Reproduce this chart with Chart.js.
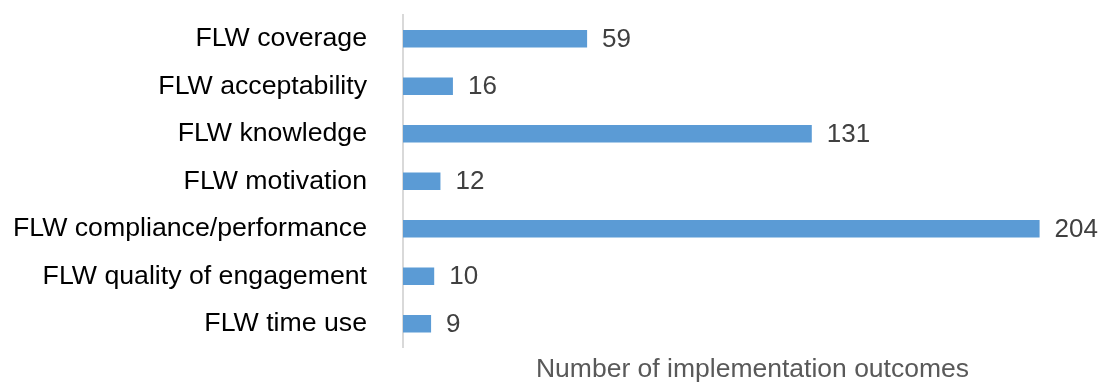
<!DOCTYPE html>
<html>
<head>
<meta charset="utf-8">
<script src="https://cdn.jsdelivr.net/npm/chart.js@4/dist/chart.umd.min.js"></script>
<style>
  html, body { margin: 0; padding: 0; background: #fff; }
  #wrap { width: 1102px; height: 383px; position: relative; }
</style>
</head>
<body>
<div id="wrap"><canvas id="outcomesChart"></canvas></div>
<script>
const categories = [
    'FLW coverage',
    'FLW acceptability',
    'FLW knowledge',
    'FLW motivation',
    'FLW compliance/performance',
    'FLW quality of engagement',
    'FLW time use'
];
const outcomeCounts = [59, 16, 131, 12, 204, 10, 9];
const axisTitle = 'Number of implementation outcomes';

const FONT = '"Liberation Sans", Arial, sans-serif';

// write the count just past the end of each bar
const valueLabels = {
    id: 'valueLabels',
    afterDatasetsDraw(chart) {
        const ctx = chart.ctx;
        const meta = chart.getDatasetMeta(0);
        ctx.save();
        ctx.font = '26px ' + FONT;
        ctx.fillStyle = '#404040';
        ctx.textAlign = 'left';
        ctx.textBaseline = 'middle';
        meta.data.forEach((bar, i) => {
            ctx.fillText(String(outcomeCounts[i]), bar.x + 15, bar.y + 1);
        });
        ctx.restore();
    }
};

const ctx = document.getElementById('outcomesChart').getContext('2d');
new Chart(ctx, {
    type: 'bar',
    data: {
        labels: categories,
        datasets: [{
            data: outcomeCounts,
            backgroundColor: '#5b9bd5',
            borderWidth: 0,
            categoryPercentage: 1,
            barPercentage: 0.37
        }]
    },
    options: {
        indexAxis: 'y',
        responsive: true,
        maintainAspectRatio: false,
        animation: false,
        layout: { padding: { top: 15, right: 0, bottom: 0, left: 0 } },
        plugins: {
            legend: { display: false },
            tooltip: { enabled: false }
        },
        scales: {
            x: {
                min: 0,
                max: 224,
                grid: { display: false },
                border: { display: false },
                ticks: { display: false },
                title: {
                    display: true,
                    text: axisTitle,
                    color: '#595959',
                    font: { family: FONT, size: 26.5, lineHeight: 1 },
                    padding: { top: 4, bottom: 0 }
                },
                afterFit(scale) {
                    scale.height = 35.5;
                    scale.paddingLeft = 0;
                    scale.paddingRight = 0;
                }
            },
            y: {
                grid: { display: false },
                border: { display: true, color: '#d9d9d9', width: 2 },
                ticks: {
                    color: '#000000',
                    font: { family: FONT, size: 26.7 },
                    padding: 28
                },
                afterFit(scale) {
                    scale.width = 403;
                    scale.paddingTop = 0;
                    scale.paddingBottom = 0;
                }
            }
        }
    },
    plugins: [valueLabels]
});
</script>
</body>
</html>
